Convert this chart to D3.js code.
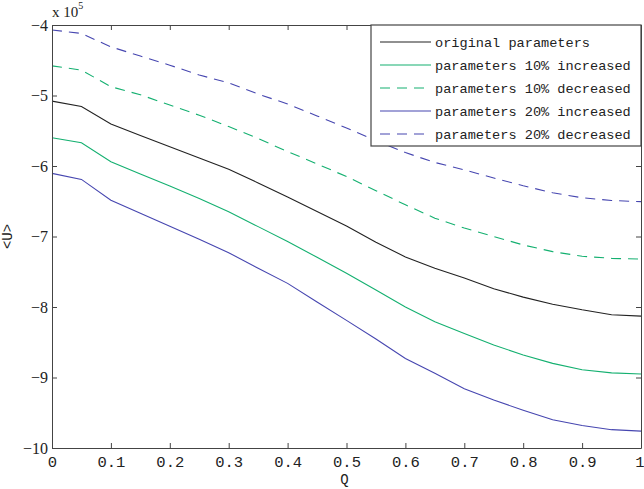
<!DOCTYPE html>
<html>
<head>
<meta charset="utf-8">
<script src="https://cdn.jsdelivr.net/npm/d3@7"></script>
<style>
  body { margin: 0; background: #fff; }
  svg { display: block; }
</style>
</head>
<body>
<div id="chart"></div>
<script>
// Q values (x axis)
var qValues = [0, 0.05, 0.1, 0.15, 0.2, 0.25, 0.3, 0.35, 0.4, 0.45, 0.5,
               0.55, 0.6, 0.65, 0.7, 0.75, 0.8, 0.85, 0.9, 0.95, 1];

// <U> in units of 10^5
var original = [-5.08, -5.155, -5.405, -5.567, -5.727, -5.888, -6.045, -6.24, -6.44, -6.645, -6.85,
                -7.08, -7.29, -7.45, -7.59, -7.74, -7.86, -7.96, -8.04, -8.11, -8.13];
var inc10 = [-5.60, -5.67, -5.94, -6.115, -6.285, -6.46, -6.65, -6.86, -7.07, -7.295, -7.52,
             -7.76, -8.0, -8.21, -8.375, -8.54, -8.68, -8.80, -8.89, -8.935, -8.95];
var dec10 = [-4.58, -4.64, -4.875, -4.99, -5.135, -5.28, -5.44, -5.61, -5.795, -5.97, -6.15,
             -6.35, -6.55, -6.74, -6.88, -7.0, -7.12, -7.215, -7.28, -7.31, -7.32];
var inc20 = [-6.105, -6.19, -6.485, -6.67, -6.855, -7.04, -7.23, -7.45, -7.665, -7.93, -8.19,
             -8.455, -8.73, -8.94, -9.16, -9.32, -9.465, -9.60, -9.68, -9.74, -9.76];
var dec20 = [-4.07, -4.12, -4.31, -4.44, -4.57, -4.71, -4.82, -4.98, -5.12, -5.29, -5.46,
             -5.64, -5.81, -5.95, -6.055, -6.17, -6.28, -6.38, -6.45, -6.49, -6.505];

var seriesNames = ["original parameters", "parameters 10% increased", "parameters 10% decreased",
                   "parameters 20% increased", "parameters 20% decreased"];
var seriesValues = [original, inc10, dec10, inc20, dec20];

var xTicks = [0, 0.1, 0.2, 0.3, 0.4, 0.5, 0.6, 0.7, 0.8, 0.9, 1];
var yTicks = [-10, -9, -8, -7, -6, -5, -4];

var green = "#14b070", blue = "#4646b0";
var colors = ["#222", green, green, blue, blue];
var dashes = [null, null, "10,7", null, "10,7"];

var width = 644, height = 489;
var margin = {top: 25, right: 3, bottom: 41, left: 52};
var w = width - margin.left - margin.right;
var h = height - margin.top - margin.bottom;

var svg = d3.select("#chart")
    .append("svg")
    .attr("width", width)
    .attr("height", height);

var g = svg.append("g")
    .attr("transform", "translate(" + margin.left + "," + margin.top + ")");

var x = d3.scaleLinear().domain([0, 1]).range([0, w]);
var y = d3.scaleLinear().domain([-10, -4]).range([h, 0]);

var axisColor = "#444";
var monoFont = "'Liberation Mono', monospace";
var serifFont = "'Liberation Serif', serif";

// lines
var line = d3.line()
    .x(function (d, i) { return x(qValues[i]); })
    .y(function (d) { return y(d); });

g.selectAll("path.series")
    .data(seriesValues)
    .enter()
    .append("path")
    .attr("class", "series")
    .attr("d", line)
    .attr("fill", "none")
    .attr("stroke", function (d, i) { return colors[i]; })
    .attr("stroke-width", 1.1)
    .attr("stroke-dasharray", function (d, i) { return dashes[i]; });

// box axes, ticks pointing inward
var tickLen = 5;
var bottom = g.append("g")
    .attr("transform", "translate(0," + h + ")")
    .call(d3.axisBottom(x).tickValues(xTicks).tickSizeInner(-tickLen).tickSizeOuter(0)
        .tickFormat(function (d) { return d === 0 || d === 1 ? d : d3.format(".1f")(d); }));
bottom.selectAll("text")
    .attr("y", 8)
    .attr("dy", "0.71em")
    .style("font-family", monoFont)
    .style("font-size", "15.5px");
// last label sits on the window edge
bottom.selectAll("text").filter(function (d) { return d === 1; })
    .attr("text-anchor", "end")
    .attr("dx", 3);

g.append("g")
    .call(d3.axisTop(x).tickValues(xTicks).tickSizeInner(-tickLen).tickSizeOuter(0).tickFormat(""));

var left = g.append("g")
    .call(d3.axisLeft(y).tickValues(yTicks).tickSizeInner(-tickLen).tickSizeOuter(0)
        .tickFormat(function (d) { return "\u2212" + Math.abs(d); }));
left.selectAll("text")
    .attr("x", -4)
    .style("font-family", serifFont)
    .style("font-size", "16px");

g.append("g")
    .attr("transform", "translate(" + w + ",0)")
    .call(d3.axisRight(y).tickValues(yTicks).tickSizeInner(-tickLen).tickSizeOuter(0).tickFormat(""));

g.selectAll(".domain, .tick line").attr("stroke", axisColor);
g.selectAll(".tick text").attr("fill", "#222");

// exponent label
var expo = svg.append("text")
    .attr("x", margin.left)
    .attr("y", 17)
    .style("font-family", serifFont)
    .style("font-size", "15px")
    .attr("fill", "#222");
expo.append("tspan").text("x 10");
expo.append("tspan").attr("dy", -8).style("font-size", "10px").text("5");

// axis titles
svg.append("text")
    .attr("x", margin.left + w / 2 - 2)
    .attr("y", 484)
    .attr("text-anchor", "middle")
    .style("font-family", monoFont)
    .style("font-size", "14px")
    .attr("fill", "#222")
    .text("Q");

svg.append("text")
    .attr("transform", "translate(12," + (margin.top + h / 2) + ") rotate(-90)")
    .attr("text-anchor", "middle")
    .style("font-family", monoFont)
    .style("font-size", "14px")
    .attr("fill", "#222")
    .text("<U>");

// legend
var legend = g.append("g").attr("transform", "translate(" + (w - 270) + ",0)");
legend.append("rect")
    .attr("width", 270)
    .attr("height", 121)
    .attr("fill", "#fff")
    .attr("stroke", axisColor)
    .attr("stroke-width", 1.2);

var rows = legend.selectAll("g.row")
    .data(seriesNames)
    .enter()
    .append("g")
    .attr("class", "row")
    .attr("transform", function (d, i) { return "translate(0," + (17 + i * 23) + ")"; });

rows.append("line")
    .attr("x1", 9).attr("x2", 60)
    .attr("stroke", function (d, i) { return colors[i]; })
    .attr("stroke-width", 1.1)
    .attr("stroke-dasharray", function (d, i) { return dashes[i]; });

rows.append("text")
    .attr("x", 64)
    .attr("y", 5)
    .style("font-family", monoFont)
    .style("font-size", "13.6px")
    .attr("fill", "#222")
    .text(function (d) { return d; });
</script>
</body>
</html>
